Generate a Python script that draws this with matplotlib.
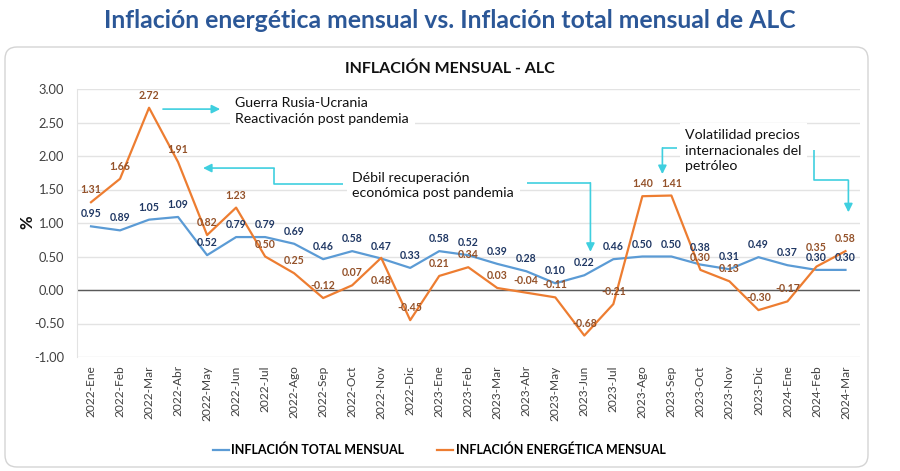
import matplotlib
matplotlib.use("Agg")
import matplotlib.pyplot as plt
from matplotlib.patches import FancyBboxPatch
from matplotlib.lines import Line2D

months = ["2022-Ene", "2022-Feb", "2022-Mar", "2022-Abr", "2022-May", "2022-Jun", "2022-Jul",
          "2022-Ago", "2022-Sep", "2022-Oct", "2022-Nov", "2022-Dic", "2023-Ene", "2023-Feb",
          "2023-Mar", "2023-Abr", "2023-May", "2023-Jun", "2023-Jul", "2023-Ago", "2023-Sep",
          "2023-Oct", "2023-Nov", "2023-Dic", "2024-Ene", "2024-Feb", "2024-Mar"]
total = [0.95, 0.89, 1.05, 1.09, 0.52, 0.79, 0.79, 0.69, 0.46, 0.58, 0.47, 0.33, 0.58, 0.52,
         0.39, 0.28, 0.10, 0.22, 0.46, 0.50, 0.50, 0.38, 0.31, 0.49, 0.37, 0.30, 0.30]
energia = [1.31, 1.66, 2.72, 1.91, 0.82, 1.23, 0.50, 0.25, -0.12, 0.07, 0.48, -0.45, 0.21, 0.34,
           0.03, -0.04, -0.11, -0.68, -0.21, 1.40, 1.41, 0.30, 0.13, -0.30, -0.17, 0.35, 0.58]
yticks = [-1.0, -0.5, 0.0, 0.5, 1.0, 1.5, 2.0, 2.5, 3.0]

BLUE = "#5B9BD5"
ORANGE = "#ED7D31"
BLUE_LBL = "#203864"
ORANGE_LBL = "#94522A"
CYAN = "#3FCFDF"
FONT = ["Lato", "DejaVu Sans"]
NARROW = ["Liberation Sans Narrow", "Lato", "DejaVu Sans"]

plt.rcParams["font.family"] = FONT

fig = plt.figure(figsize=(9, 4.71), dpi=100)

# rounded frame
box = FancyBboxPatch((0.05, 0.04), 8.63, 4.20, boxstyle="round,pad=0,rounding_size=0.12",
                     transform=fig.dpi_scale_trans, facecolor="white", edgecolor="#D4D4D4",
                     linewidth=1.0, zorder=-10)
fig.patches.append(box)

fig.text(0.5, 0.957, "Inflación energética mensual vs. Inflación total mensual de ALC",
         ha="center", va="center", fontsize=17.8, fontweight="bold", color="#2B5797")
fig.text(0.5, 0.855, "INFLACIÓN MENSUAL - ALC", ha="center", va="center",
         fontsize=11.5, fontweight="bold", color="#111111")
fig.text(27 / 900, 1 - 222 / 471, "%", rotation=90, ha="center", va="center",
         fontsize=12, fontweight="bold", color="#111111")

ax = fig.add_axes([76.5 / 900, 114 / 471, (860 - 76.5) / 900, (357 - 89) / 471])
ax.patch.set_alpha(0)
x = list(range(len(months)))
ax.plot(x, total, color=BLUE, lw=1.6, zorder=3)
ax.plot(x, energia, color=ORANGE, lw=1.6, zorder=3)

ax.set_xlim(-0.5, len(months) - 0.5)
ax.set_ylim(-1.0, 3.0)
ax.set_yticks(yticks)
ax.set_yticklabels([f"{t:.2f}" for t in yticks], fontsize=9.3, color="#404040")
ax.set_xticks(x)
ax.set_xticklabels(months, rotation=90, fontsize=8.6, color="#404040")
ax.tick_params(length=0, pad=6)
ax.tick_params(axis="y", pad=9)
ax.grid(axis="y", color="#E3E3E3", lw=1.0, zorder=0)
ax.axhline(0, color="#595959", lw=1.0, zorder=2)
for s in ["top", "right", "bottom"]:
    ax.spines[s].set_visible(False)
ax.spines["left"].set_color("#E3E3E3")

blue_off = {"2023-Oct": 12}
orange_off = {"2022-Nov": -16, "2024-Feb": 14}
for i, v in enumerate(total):
    ax.annotate(f"{v:.2f}", (i, v), xytext=(0, blue_off.get(months[i], 9)), textcoords="offset points",
                ha="center", va="center", fontsize=7.6, fontweight="bold", color=BLUE_LBL, zorder=5)
for i, v in enumerate(energia):
    ax.annotate(f"{v:.2f}", (i, v), xytext=(0, orange_off.get(months[i], 9)), textcoords="offset points",
                ha="center", va="center", fontsize=7.6, fontweight="bold", color=ORANGE_LBL, zorder=5)

# annotations
tb = dict(boxstyle="square,pad=0.4", facecolor="white", edgecolor="none")
ax.text(4.97, 2.67, "Guerra Rusia-Ucrania\nReactivación post pandemia", fontsize=10.2,
        ha="left", va="center", linespacing=1.35, bbox=tb, zorder=4, color="#111111")
ax.text(9.0, 1.56, "Débil recuperación\neconómica post pandemia", fontsize=10.2,
        ha="left", va="center", linespacing=1.35, bbox=tb, zorder=4, color="#111111")
ax.text(20.48, 2.08, "Volatilidad precios\ninternacionales del\npetróleo", fontsize=10.2,
        ha="left", va="center", linespacing=1.35, bbox=tb, zorder=4, color="#111111")

arw = dict(arrowstyle="-|>,head_length=0.5,head_width=0.25", color=CYAN, lw=1.2,
           shrinkA=0, shrinkB=0)

def connector(pts):
    xs = [p[0] for p in pts[:-1]]
    ys = [p[1] for p in pts[:-1]]
    if len(xs) > 1:
        ax.plot(xs, ys, color=CYAN, lw=1.2, zorder=4, solid_capstyle="butt")
    ax.annotate("", xy=pts[-1], xytext=pts[-2], arrowprops=arw, zorder=4)

connector([(2.48, 2.70), (4.45, 2.70)])
connector([(8.69, 1.58), (6.31, 1.58), (6.31, 1.82), (3.86, 1.82)])
connector([(15.03, 1.60), (17.21, 1.60), (17.21, 0.57)])
connector([(20.21, 2.12), (19.69, 2.12), (19.69, 1.73)])
connector([(24.9, 2.09), (24.9, 1.64), (26.1, 1.64), (26.1, 1.16)])

handles = [Line2D([], [], color=BLUE, lw=1.6), Line2D([], [], color=ORANGE, lw=1.6)]
fig.legend(handles, ["INFLACIÓN TOTAL MENSUAL", "INFLACIÓN ENERGÉTICA MENSUAL"],
           loc="center", bbox_to_anchor=(439 / 900, 1 - 450 / 471), ncol=2, frameon=False,
           handlelength=1.3, handletextpad=0.2, columnspacing=2.6,
           prop=dict(family=NARROW, weight="bold", size=9))

fig.savefig("out.png", dpi=100)
